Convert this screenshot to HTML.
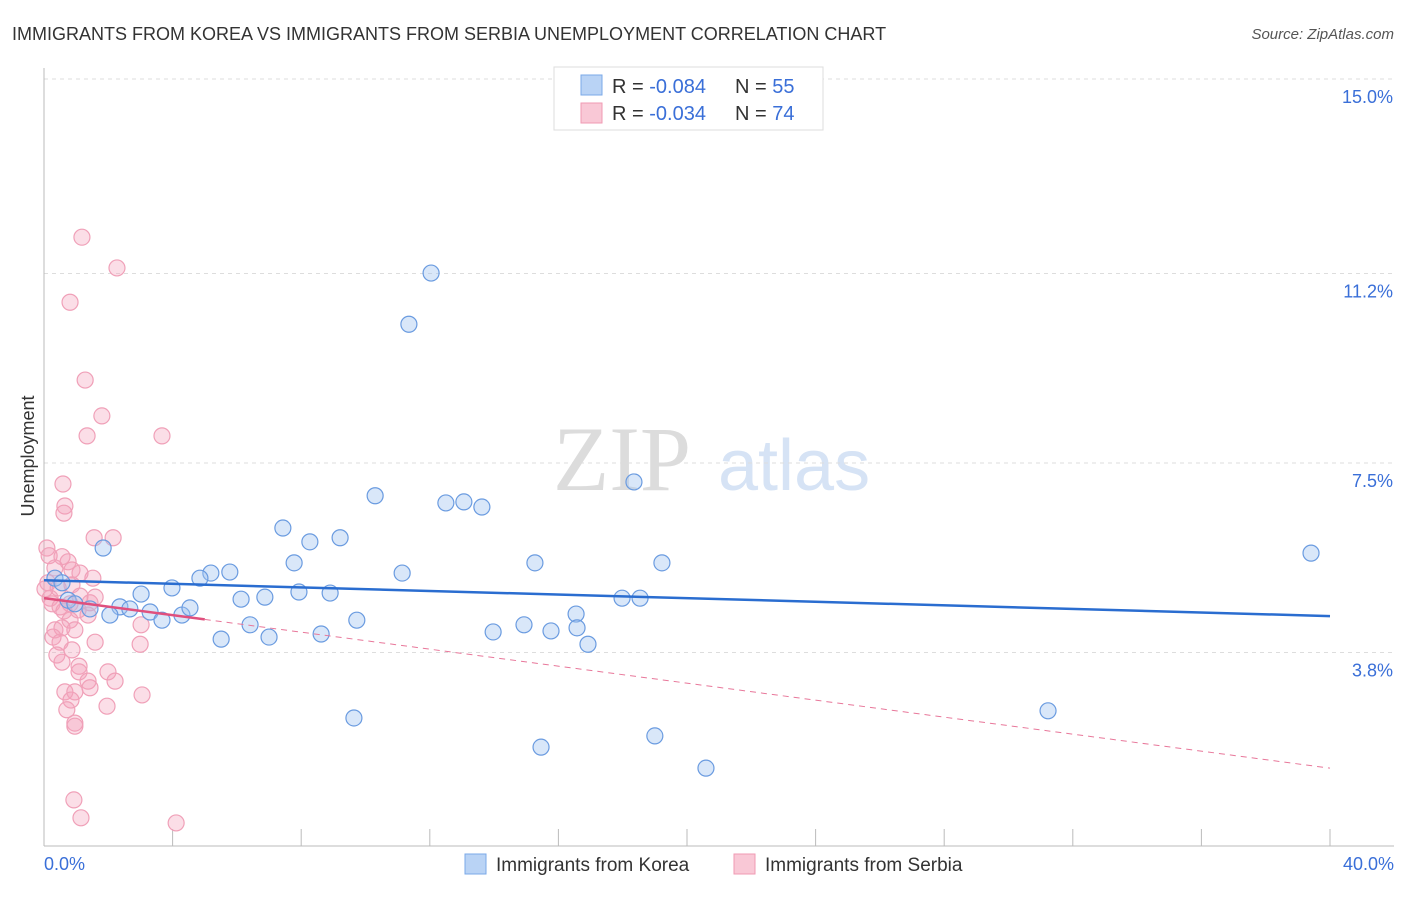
<!DOCTYPE html>
<html><head><meta charset="utf-8"><style>
body{margin:0;background:#fff;font-family:"Liberation Sans",sans-serif;}
svg text{font-family:"Liberation Sans",sans-serif;}
</style></head><body>
<svg id="chart" width="1406" height="892" viewBox="0 0 1406 892" xmlns="http://www.w3.org/2000/svg">
<text x="12" y="40" font-size="18" fill="#333">IMMIGRANTS FROM KOREA VS IMMIGRANTS FROM SERBIA UNEMPLOYMENT CORRELATION CHART</text>
<text x="1394" y="39" font-size="15" fill="#555" font-style="italic" text-anchor="end">Source: ZipAtlas.com</text>
<g>
<text x="553" y="490" font-size="92" fill="#dcdcdc" font-family="Liberation Serif, serif" style="font-family:'Liberation Serif',serif">ZIP</text>
<text x="718" y="490" font-size="72" fill="#d6e3f5">atlas</text>
</g>
<g id="grid"></g>
<g id="axes"></g>
<g id="marks"></g>
<text transform="translate(34,456) rotate(-90)" font-size="18" fill="#333" text-anchor="middle">Unemployment</text>
<g>
<rect x="554" y="67" width="269" height="63" fill="#fff" stroke="#ddd"/>
<rect x="581" y="75" width="21" height="20" fill="#b9d3f5" stroke="#7aa8e8"/>
<rect x="581" y="103" width="21" height="20" fill="#f9c8d6" stroke="#f09ab3"/>
<text x="612" y="93" font-size="20" fill="#333">R = <tspan fill="#3a6fd8">-0.084</tspan><tspan x="735">N = </tspan><tspan fill="#3a6fd8">55</tspan></text>
<text x="612" y="120" font-size="20" fill="#333">R = <tspan fill="#3a6fd8">-0.034</tspan><tspan x="735">N = </tspan><tspan fill="#3a6fd8">74</tspan></text>
</g>
<g>
<rect x="465" y="854" width="21" height="20" fill="#b9d3f5" stroke="#7aa8e8"/>
<text x="496" y="871" font-size="19" fill="#333">Immigrants from Korea</text>
<rect x="734" y="854" width="21" height="20" fill="#f9c8d6" stroke="#f09ab3"/>
<text x="765" y="871" font-size="19" fill="#333">Immigrants from Serbia</text>
</g>
</svg>
<script>
const yTicks=[15.0,11.2,7.5,3.8];
const yTickLabels=["15.0%","11.2%","7.5%","3.8%"];
const xTickValues=[0,4,8,12,16,20,24,28,32,36,40];
const koreaX=[12.04,11.35,18.35,10.30,12.50,13.06,13.62,7.43,8.27,9.21,1.84,7.78,15.27,19.22,39.41,11.14,5.19,5.78,4.85,3.98,3.02,7.93,8.90,6.87,6.13,17.98,18.54,2.36,2.67,3.30,2.05,1.43,4.29,4.54,3.67,16.55,6.41,9.73,14.93,16.58,13.97,15.77,8.62,5.51,7.00,16.92,9.64,31.23,15.46,19.00,20.59,0.34,0.56,0.75,0.96];
const koreaY=[11.21,10.21,7.13,6.86,6.72,6.74,6.64,6.23,5.96,6.04,5.84,5.55,5.55,5.55,5.74,5.35,5.35,5.37,5.25,5.06,4.94,4.98,4.96,4.88,4.84,4.86,4.86,4.69,4.65,4.59,4.53,4.65,4.53,4.67,4.43,4.55,4.34,4.43,4.34,4.28,4.20,4.22,4.16,4.06,4.10,3.96,2.52,2.66,1.95,2.17,1.54,5.25,5.16,4.82,4.75];
const serbiaX=[1.18,2.27,0.81,1.28,1.80,1.34,3.67,0.59,0.65,0.62,1.56,2.15,0.09,0.16,0.56,0.75,0.34,0.87,1.12,1.52,0.12,0.44,0.87,0.19,0.25,0.50,0.81,1.12,1.43,1.59,1.06,0.62,0.81,0.34,0.56,0.96,3.02,0.28,0.50,1.59,2.99,0.87,0.40,0.56,1.09,1.99,1.09,2.21,1.37,1.43,0.65,0.96,3.05,0.84,1.96,0.71,0.96,0.96,0.93,1.15,4.11,0.03,1.37];
const serbiaY=[11.91,11.31,10.64,9.12,8.42,8.03,8.03,7.09,6.66,6.52,6.04,6.04,5.84,5.69,5.67,5.57,5.45,5.41,5.35,5.25,5.16,5.06,5.12,4.86,4.75,4.69,4.75,4.90,4.77,4.88,4.63,4.61,4.43,4.24,4.28,4.24,4.34,4.10,4.00,4.00,3.96,3.85,3.75,3.61,3.53,3.42,3.42,3.24,3.24,3.11,3.03,3.03,2.97,2.87,2.75,2.68,2.42,2.36,0.92,0.57,0.47,5.04,4.53];
const koreaTrend=[5.21,4.51];
const serbiaTrend=[4.86,1.54];
const serbiaSolidEnd=5;

const NS="http://www.w3.org/2000/svg";
const X0=44,XS=32.15,Y0=79,YS=51.2;
function xs(v){return X0+v*XS;}
function ys(v){return Y0+(15-v)*YS;}
function mk(tag,attrs,parent){const e=document.createElementNS(NS,tag);for(const k in attrs)e.setAttribute(k,attrs[k]);parent.appendChild(e);return e;}
const grid=document.getElementById('grid'),axes=document.getElementById('axes'),marks=document.getElementById('marks');
yTicks.forEach((t,i)=>{
  const l=mk('line',{x1:44,x2:1394,y1:ys(t),y2:ys(t),stroke:'#ddd','stroke-dasharray':'4,4'},grid);
  
  
  const tx=mk('text',{x:1393,y:ys(t)+24,'font-size':18,fill:'#3a6fd8','text-anchor':'end'},axes);
  tx.textContent=yTickLabels[i];
  
  
});
const ax=mk('line',{x1:44,x2:44,y1:68,y2:846,stroke:'#bbb'},axes);


const bx=mk('line',{x1:44,x2:1394,y1:846,y2:846,stroke:'#bbb'},axes);


xTickValues.forEach(v=>{
  const t=mk('line',{x1:xs(v),x2:xs(v),y1:829,y2:846,stroke:'#bbb'},axes);
  
  
});
const xl0=mk('text',{x:44,y:870,'font-size':18,fill:'#3a6fd8'},axes);xl0.textContent='0.0%';


const xl1=mk('text',{x:1394,y:870,'font-size':18,fill:'#3a6fd8','text-anchor':'end'},axes);xl1.textContent='40.0%';



serbiaX.forEach((x,i)=>{
  const c=mk('circle',{cx:xs(x),cy:ys(serbiaY[i]),r:8,fill:'rgba(244,160,186,0.35)',stroke:'#f0a0b8','stroke-width':1.2},marks);
  
  
});
koreaX.forEach((x,i)=>{
  const c=mk('circle',{cx:xs(x),cy:ys(koreaY[i]),r:8,fill:'rgba(160,195,240,0.4)',stroke:'#6a9be0','stroke-width':1.2},marks);
  
  
});
function trendY(tr,x){return tr[0]+(tr[1]-tr[0])*x/40;}
const kt=mk('line',{x1:xs(0),y1:ys(koreaTrend[0]),x2:xs(40),y2:ys(koreaTrend[1]),stroke:'#2a6dd0','stroke-width':2.5},marks);


const sd=mk('line',{x1:xs(serbiaSolidEnd),y1:ys(trendY(serbiaTrend,serbiaSolidEnd)),x2:xs(40),y2:ys(serbiaTrend[1]),stroke:'#e8779a','stroke-width':1,'stroke-dasharray':'6,5'},marks);


const ss=mk('line',{x1:xs(0),y1:ys(serbiaTrend[0]),x2:xs(serbiaSolidEnd),y2:ys(trendY(serbiaTrend,serbiaSolidEnd)),stroke:'#e0507e','stroke-width':2.5},marks);


</script>
</body></html>
